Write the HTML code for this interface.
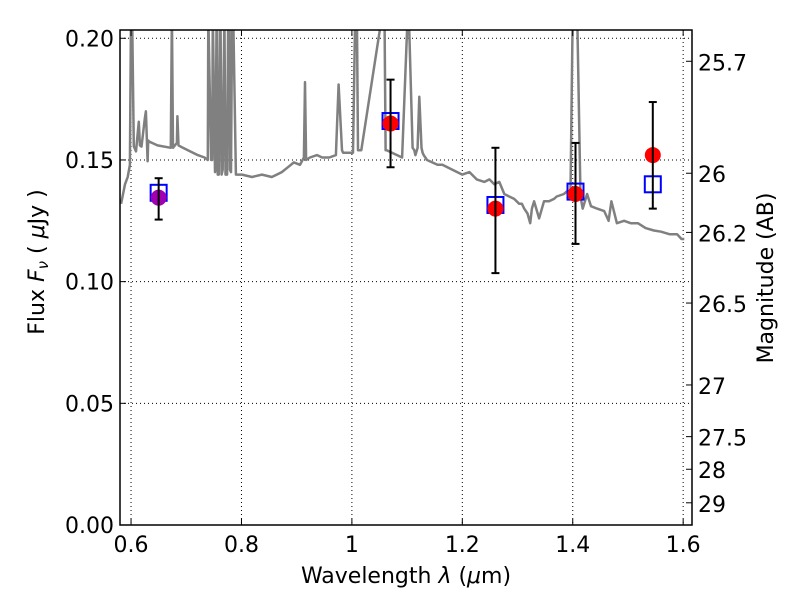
<!DOCTYPE html>
<html><head><meta charset="utf-8"><style>
body{margin:0;background:#fff;}
svg{display:block;font-family:"DejaVu Sans","Liberation Sans",sans-serif;}
</style></head><body>
<svg id="chart" width="800" height="600" viewBox="0 0 800 600">
<rect x="0" y="0" width="800" height="600" fill="#fff"/>
<g id="grid"></g>
<g id="spec"></g>
<g id="marks"></g>
<g id="axes"></g>
<text x="406" y="583" font-size="22" text-anchor="middle">Wavelength  <tspan font-style="italic">λ</tspan> (<tspan font-style="italic">μ</tspan>m)</text>
<text transform="translate(44,262) rotate(-90)" font-size="22" text-anchor="middle">Flux  <tspan font-style="italic">F<tspan font-size="15" dy="4">ν</tspan></tspan><tspan dy="-4">  (  </tspan><tspan font-style="italic">μ</tspan>Jy )</text>
<text transform="translate(773,278) rotate(-90)" font-size="22" text-anchor="middle">Magnitude (AB)</text>
</svg>
<script>
const xTicks=[0.6,0.8,1.0,1.2,1.4,1.6];
const xTickLabels=["0.6","0.8","1","1.2","1.4","1.6"];
const yTicks=[0,0.05,0.10,0.15,0.20];
const yTickLabels=["0.00","0.05","0.10","0.15","0.20"];
const magTicks=[25.7,26,26.2,26.5,27,27.5,28,29];
const magLabels=["25.7","26","26.2","26.5","27","27.5","28","29"];
const bandWave=[0.65,1.07,1.26,1.405,1.545];
const obsFlux=[0.1345,0.165,0.130,0.136,0.152];
const errHi=[0.1425,0.183,0.155,0.157,0.1738];
const errLo=[0.1255,0.147,0.1035,0.1155,0.130];
const modelFlux=[0.1365,0.166,0.1315,0.137,0.140];
const obsColors=["#a000b0","red","red","red","red"];
const specWave=[0.582,0.589,0.594,0.598,0.600,0.602,0.605,0.609,0.614,0.616,0.619,0.625,0.627,0.630,0.631,0.633,0.638,0.648,0.672,0.674,0.676,0.683,0.684,0.686,0.694,0.703,0.721,0.733,0.739,0.740,0.745,0.747,0.748,0.752,0.753,0.755,0.757,0.759,0.761,0.762,0.764,0.766,0.769,0.771,0.774,0.776,0.778,0.779,0.781,0.783,0.785,0.790,0.801,0.819,0.837,0.855,0.864,0.873,0.884,0.895,0.906,0.913,0.915,0.917,0.924,0.937,0.946,0.959,0.971,0.976,0.982,0.984,0.986,0.990,1.002,1.006,1.009,1.011,1.017,1.055,1.059,1.061,1.063,1.091,1.101,1.103,1.110,1.113,1.115,1.119,1.122,1.126,1.128,1.130,1.136,1.155,1.164,1.182,1.200,1.213,1.226,1.240,1.249,1.258,1.267,1.276,1.285,1.294,1.303,1.308,1.312,1.318,1.323,1.326,1.330,1.339,1.348,1.357,1.366,1.371,1.384,1.389,1.392,1.396,1.400,1.402,1.406,1.408,1.414,1.418,1.426,1.433,1.444,1.457,1.461,1.465,1.470,1.480,1.493,1.505,1.518,1.532,1.547,1.560,1.575,1.589,1.593,1.597,1.602];
const specFlux=[0.132,0.140,0.143,0.148,0.21,0.21,0.1556,0.1535,0.1657,0.156,0.1555,0.167,0.17,0.1495,0.158,0.1575,0.157,0.156,0.155,0.21,0.155,0.157,0.168,0.156,0.155,0.154,0.152,0.151,0.150,0.21,0.150,0.150,0.21,0.145,0.146,0.21,0.144,0.144,0.21,0.21,0.144,0.146,0.21,0.144,0.144,0.21,0.21,0.146,0.145,0.21,0.21,0.144,0.144,0.143,0.144,0.143,0.144,0.145,0.147,0.149,0.148,0.151,0.182,0.150,0.151,0.152,0.151,0.151,0.152,0.181,0.154,0.153,0.153,0.153,0.153,0.21,0.21,0.154,0.154,0.21,0.21,0.154,0.154,0.151,0.210,0.210,0.155,0.154,0.152,0.155,0.176,0.155,0.153,0.152,0.150,0.148,0.148,0.146,0.144,0.145,0.142,0.141,0.142,0.140,0.141,0.136,0.135,0.134,0.132,0.132,0.130,0.128,0.124,0.130,0.133,0.126,0.133,0.133,0.134,0.135,0.136,0.137,0.136,0.137,0.21,0.21,0.21,0.21,0.135,0.13,0.136,0.131,0.130,0.129,0.127,0.125,0.133,0.124,0.125,0.124,0.124,0.122,0.121,0.1205,0.1195,0.1195,0.1185,0.1175,0.1175,0.122,0.143];
const X0=0.58,X1=1.616,PX0=120,PX1=692;
const PY0=30,PY1=525,Y0=0,Y1=0.2034;
function sx(v){return PX0+(v-X0)/(X1-X0)*(PX1-PX0);}
function sy(v){return PY1-(v-Y0)/(Y1-Y0)*(PY1-PY0);}
function magY(m){return sy(Math.pow(10,(23.9-m)/2.5));}
const NS="http://www.w3.org/2000/svg";
function mk(parent,tag,attrs){const e=document.createElementNS(NS,tag);for(const k in attrs)e.setAttribute(k,attrs[k]);parent.appendChild(e);return e;}
const grid=document.getElementById('grid'),spec=document.getElementById('spec'),marks=document.getElementById('marks'),axes=document.getElementById('axes');
xTicks.forEach((t,i)=>{
  const x=sx(t);
  const g=mk(grid,'line',{x1:x,x2:x,y1:PY0,y2:PY1,stroke:'#000','stroke-width':1,'stroke-dasharray':'1,3'});
  
  
  mk(axes,'line',{x1:x,x2:x,y1:PY1,y2:PY1-6,stroke:'#000'});
  mk(axes,'line',{x1:x,x2:x,y1:PY0,y2:PY0+6,stroke:'#000'});
  const tx=mk(axes,'text',{x:x,y:PY1+27,'font-size':22,'text-anchor':'middle'});
  tx.textContent=xTickLabels[i];
  
  
});
yTicks.forEach((t,i)=>{
  const y=sy(t);
  const g=mk(grid,'line',{x1:PX0,x2:PX1,y1:y,y2:y,stroke:'#000','stroke-width':1,'stroke-dasharray':'1,3'});
  
  
  mk(axes,'line',{x1:PX0,x2:PX0+6,y1:y,y2:y,stroke:'#000'});
  const tx=mk(axes,'text',{x:PX0-6,y:y+8,'font-size':22,'text-anchor':'end'});
  tx.textContent=yTickLabels[i];
  
  
});
magTicks.forEach((m,i)=>{
  const y=magY(m);
  mk(axes,'line',{x1:PX1,x2:PX1-6,y1:y,y2:y,stroke:'#000'});
  const tx=mk(axes,'text',{x:PX1+6,y:y+9,'font-size':22,'text-anchor':'start'});
  tx.textContent=magLabels[i];
  
  
});
const cp=mk(document.getElementById('chart'),'clipPath',{id:'clip'});
mk(cp,'rect',{x:PX0,y:PY0,width:PX1-PX0,height:PY1-PY0});
spec.setAttribute('clip-path','url(#clip)');
const pts=specWave.map((w,i)=>sx(w).toFixed(1)+','+sy(specFlux[i]).toFixed(1)).join(' ');
const pl=mk(spec,'polyline',{points:pts,fill:'none',stroke:'#808080','stroke-width':2.5,'stroke-linejoin':'round'});


bandWave.forEach((w,i)=>{
  const x=sx(w);
  const sq=mk(marks,'rect',{x:x-8,y:sy(modelFlux[i])-8,width:16,height:16,fill:'none',stroke:'#0000ff','stroke-width':2});
  
  
  const c=mk(marks,'circle',{cx:x,cy:sy(obsFlux[i]),r:8,fill:obsColors[i]});
  
  
  const eb=mk(marks,'g',{stroke:'#000','stroke-width':2});
  
  
  mk(eb,'line',{x1:x,x2:x,y1:sy(errHi[i]),y2:sy(errLo[i])});
  mk(eb,'line',{x1:x-4,x2:x+4,y1:sy(errHi[i]),y2:sy(errHi[i])});
  mk(eb,'line',{x1:x-4,x2:x+4,y1:sy(errLo[i]),y2:sy(errLo[i])});
});
const fr=mk(axes,'rect',{x:PX0,y:PY0,width:PX1-PX0,height:PY1-PY0,fill:'none',stroke:'#000','stroke-width':1.5});


</script>
</body></html>
